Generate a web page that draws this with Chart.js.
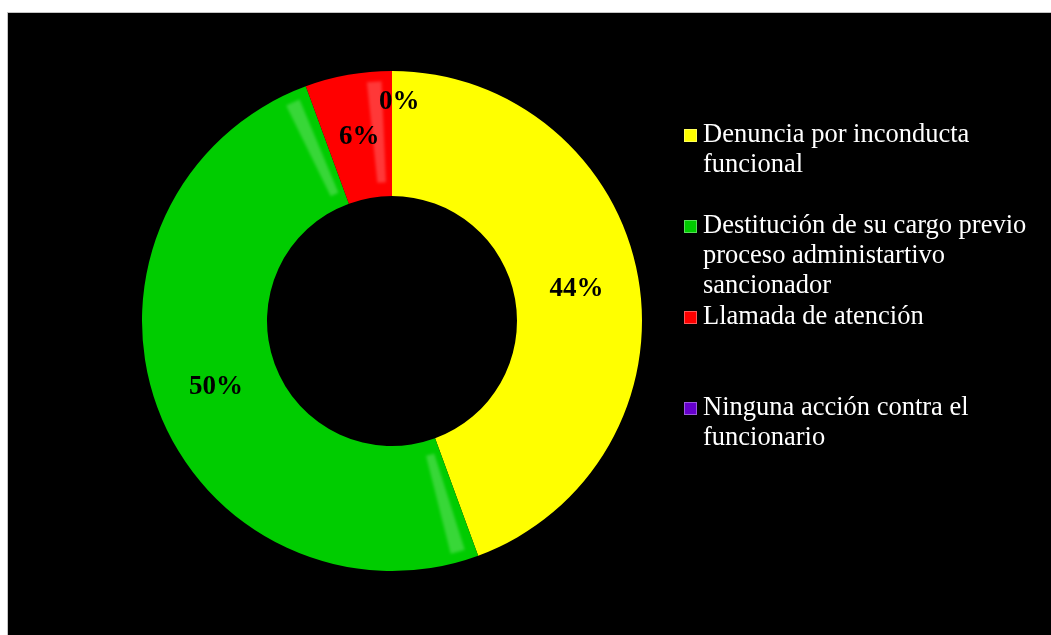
<!DOCTYPE html>
<html>
<head>
<meta charset="utf-8">
<script src="https://cdn.jsdelivr.net/npm/chart.js@4.4.1/dist/chart.umd.min.js"></script>
<style>
    html, body { margin: 0; padding: 0; background: #ffffff; }
    #frame {
        position: absolute; left: 7px; top: 12px; width: 1044px; height: 623px;
        box-sizing: border-box; border-left: 1px solid #c4c4c4; border-top: 1px solid #c4c4c4;
        background: #000000;
    }
    #chartBox { position: absolute; left: 0; top: 0; width: 1042px; height: 621px; }
    #legend {
        position: absolute; left: 675px; top: 105px; width: 367px;
        font-family: "Liberation Serif", "Times New Roman", serif; font-size: 26.5px;
        line-height: 30px; color: #ffffff; white-space: nowrap;
    }
    .item { position: relative; height: 91px; padding-left: 20px; }
    .item .box {
        position: absolute; left: 1px; top: 11px; width: 11px; height: 11px;
        border: 1px solid rgba(255,255,255,0.35);
    }
</style>
</head>
<body>
<div id="frame">
    <div id="chartBox"><canvas id="pie"></canvas></div>
    <div id="legend"></div>
</div>
<script>
;
(function(window, document) {
    'use strict';

    // categories (one line per text row, as in the legend)
    let categories = [
        ['Denuncia por inconducta', 'funcional'],
        ['Destitución de su cargo previo', 'proceso administartivo', 'sancionador'],
        ['Llamada de atención'],
        ['Ninguna acción contra el', 'funcionario']
    ];
    // share of answers, %
    let values = [44.4, 50, 5.6, 0];
    let colors = ['#ffff00', '#00cc00', '#ff0000', '#6600cc'];

    let sliceLabels = {
        id: 'sliceLabels',
        afterDatasetsDraw: function(chart) {
            let ctx = chart.ctx;
            let meta = chart.getDatasetMeta(0);
            ctx.save();
            ctx.font = 'bold 27px "Liberation Serif", "Times New Roman", serif';
            ctx.fillStyle = '#000000';
            ctx.textBaseline = 'middle';
            meta.data.forEach(function(arc, i) {
                let p = arc.getProps(['x', 'y', 'startAngle', 'endAngle', 'innerRadius', 'outerRadius']);
                let mid = (p.startAngle + p.endAngle) / 2;
                let r = (p.innerRadius + p.outerRadius) / 2;
                ctx.textAlign = 'center';
                if (values[i] === 0) {
                    // empty slice: label sits just past its edge, further out
                    r = p.innerRadius + 0.76 * (p.outerRadius - p.innerRadius);
                    ctx.textAlign = 'left';
                }
                let x = p.x + Math.cos(mid) * r;
                if (values[i] === 0) {
                    x -= 13;
                }
                ctx.fillText(Math.round(values[i]) + '%', x, p.y + Math.sin(mid) * r + 1);
            });
            ctx.restore();
        }
    };

    // soft light bevel strips near slice edges
    let bevel = {
        id: 'bevel',
        afterDatasetsDraw: function(chart) {
            let ctx = chart.ctx;
            let meta = chart.getDatasetMeta(0);
            let deg = Math.PI / 180;
            ctx.save();
            ctx.filter = 'blur(1.5px)';
            meta.data.forEach(function(arc, i) {
                let p = arc.getProps(['x', 'y', 'startAngle', 'endAngle', 'innerRadius', 'outerRadius']);
                if (p.endAngle - p.startAngle < 10 * deg || i === 0) {
                    return;
                }
                let r0 = p.innerRadius + 14;
                let r1 = p.outerRadius - 10;
                let strips = [[p.endAngle - 6 * deg, p.endAngle - 2.5 * deg]];
                if (p.endAngle - p.startAngle > 40 * deg) {
                    strips.push([p.startAngle + 2.5 * deg, p.startAngle + 6 * deg]);
                }
                strips.forEach(function(s) {
                    ctx.beginPath();
                    ctx.arc(p.x, p.y, r1, s[0], s[1]);
                    ctx.arc(p.x, p.y, r0, s[1], s[0], true);
                    ctx.closePath();
                    ctx.fillStyle = 'rgba(255,255,255,0.22)';
                    ctx.fill();
                });
            });
            ctx.restore();
        }
    };

    let chart = new Chart(document.getElementById('pie'), {
        type: 'doughnut',
        data: {
            labels: categories,
            datasets: [{
                data: values,
                backgroundColor: colors,
                borderWidth: 0
            }]
        },
        options: {
            responsive: true,
            maintainAspectRatio: false,
            animation: false,
            cutout: '50%',
            layout: { padding: { left: 134, top: 58, right: 408, bottom: 63 } },
            plugins: {
                legend: { display: false },
                tooltip: { enabled: false }
            }
        },
        plugins: [bevel, sliceLabels]
    });

    // legend built from the chart data
    let legend = document.getElementById('legend');
    chart.data.labels.forEach(function(lines, i) {
        let item = document.createElement('div');
        item.className = 'item';
        let box = document.createElement('span');
        box.className = 'box';
        box.style.background = chart.data.datasets[0].backgroundColor[i];
        item.appendChild(box);
        lines.forEach(function(line) {
            let row = document.createElement('div');
            row.textContent = line;
            item.appendChild(row);
        });
        legend.appendChild(item);
    });

})(window, document);
</script>
</body>
</html>
